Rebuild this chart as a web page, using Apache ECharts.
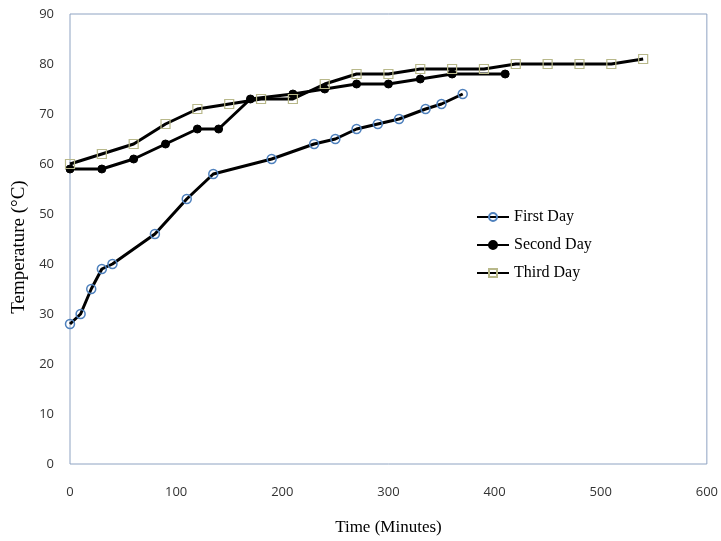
<!DOCTYPE html>
<html>
<head>
<meta charset="utf-8">
<script src="https://cdn.jsdelivr.net/npm/echarts@6/dist/echarts.min.js"></script>
<style>
  html, body { margin: 0; padding: 0; background: #fff; }
  #chart { width: 721px; height: 541px; }
</style>
</head>
<body>
<div id="chart"></div>
<script>
// 读图得到的数据 (time in minutes, temperature in °C)
const firstDayTime = [0, 10, 20, 30, 40, 80, 110, 135, 190, 230, 250, 270, 290, 310, 335, 350, 370]
const firstDayTemp = [28, 30, 35, 39, 40, 46, 53, 58, 61, 64, 65, 67, 68, 69, 71, 72, 74]

const secondDayTime = [0, 30, 60, 90, 120, 140, 170, 210, 240, 270, 300, 330, 360, 410]
const secondDayTemp = [59, 59, 61, 64, 67, 67, 73, 74, 75, 76, 76, 77, 78, 78]

const thirdDayTime = [0, 30, 60, 90, 120, 150, 180, 210, 240, 270, 300, 330, 360, 390, 420, 450, 480, 510, 540]
const thirdDayTemp = [60, 62, 64, 68, 71, 72, 73, 73, 76, 78, 78, 79, 79, 79, 80, 80, 80, 80, 81]

const seriesNames = ['First Day', 'Second Day', 'Third Day']

function pairs(xs, ys) {
  return xs.map((x, i) => [x, ys[i]])
}

const serifFont = '"Liberation Serif", "DejaVu Serif", serif'
const tickFont = '"Open Sans", "Liberation Sans", sans-serif'

const myChart = echarts.init(document.getElementById('chart'))
myChart.setOption({
  animation: false,
  backgroundColor: '#fff',
  grid: {
    left: 70,
    right: 12,
    top: 14,
    bottom: 77,
    show: true,
    borderColor: '#8ea3c2',
    borderWidth: 1
  },
  legend: {
    orient: 'vertical',
    left: 471,
    top: 204,
    itemWidth: 32,
    itemHeight: 10,
    itemGap: 12,
    textStyle: { fontFamily: serifFont, fontSize: 16, color: '#000' },
    data: seriesNames
  },
  xAxis: {
    type: 'value',
    min: 0,
    max: 600,
    interval: 100,
    name: 'Time (Minutes)',
    nameLocation: 'middle',
    nameGap: 55,
    nameTextStyle: { fontFamily: serifFont, fontSize: 17, color: '#000' },
    axisLine: { show: false },
    axisTick: { show: false },
    splitLine: { show: false },
    axisLabel: { margin: 22, fontFamily: tickFont, fontSize: 13, color: '#333' }
  },
  yAxis: {
    type: 'value',
    min: 0,
    max: 90,
    interval: 10,
    name: 'Temperature (°C)',
    nameLocation: 'middle',
    nameGap: 39,
    nameTextStyle: { fontFamily: serifFont, fontSize: 19, color: '#000', padding: [0, 16, 0, 0] },
    axisLine: { show: false },
    axisTick: { show: false },
    splitLine: { show: false },
    axisLabel: { margin: 16, fontFamily: tickFont, fontSize: 13, color: '#333' }
  },
  series: [
    {
      name: seriesNames[0],
      type: 'line',
      data: pairs(firstDayTime, firstDayTemp),
      symbol: 'circle',
      symbolSize: 9,
      lineStyle: { color: '#000', width: 3 },
      itemStyle: { color: 'rgba(255,255,255,0)', borderColor: '#4f81bd', borderWidth: 1.5 }
    },
    {
      name: seriesNames[1],
      type: 'line',
      data: pairs(secondDayTime, secondDayTemp),
      symbol: 'circle',
      symbolSize: 8,
      lineStyle: { color: '#000', width: 3 },
      itemStyle: { color: '#000', borderColor: '#000', borderWidth: 1 }
    },
    {
      name: seriesNames[2],
      type: 'line',
      data: pairs(thirdDayTime, thirdDayTemp),
      symbol: 'rect',
      symbolSize: 9,
      lineStyle: { color: '#000', width: 3 },
      itemStyle: { color: 'rgba(255,255,255,0)', borderColor: '#b8b88a', borderWidth: 1.2 }
    }
  ]
})
</script>
</body>
</html>
